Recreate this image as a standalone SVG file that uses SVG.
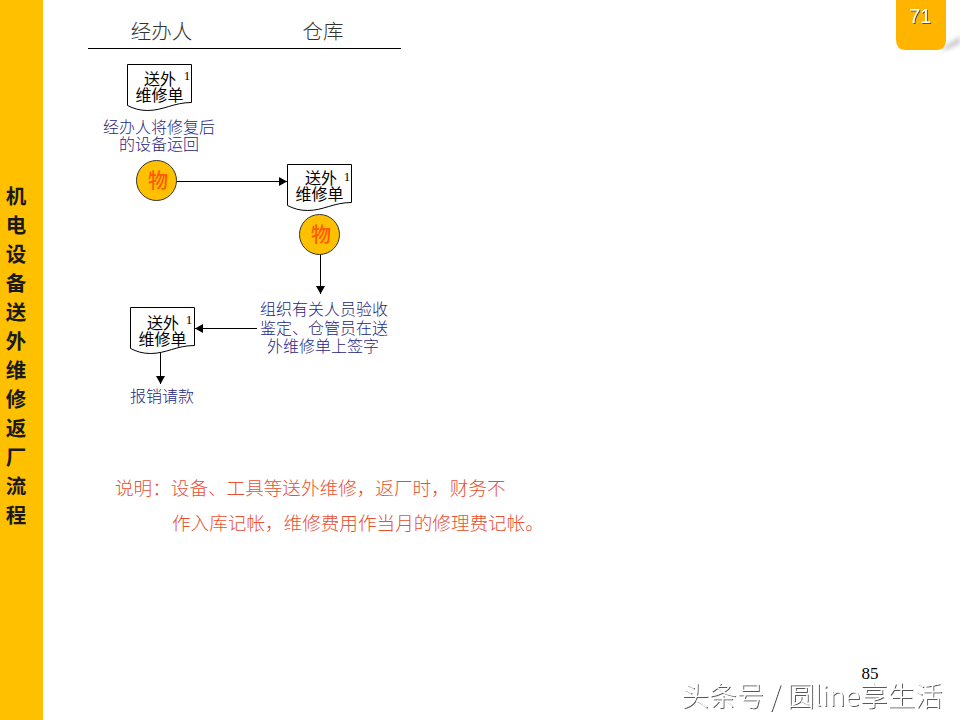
<svg xmlns="http://www.w3.org/2000/svg" width="960" height="720" viewBox="0 0 960 720">
<style>
text{font-family:"Noto Sans CJK SC","Liberation Sans",sans-serif;text-anchor:middle}
.doc{fill:#fff;stroke:#000;stroke-width:1}
.dt{font-size:16px;fill:#000;font-weight:400}
.num{font-family:"Liberation Serif",serif;font-size:13px;fill:#000}
.head{font-size:20.500px;fill:#333;font-weight:300}
.blue{font-size:16px;fill:#26267F;font-weight:300}
.circ{fill:#FFC000;stroke:#333;stroke-width:1}
.wu{font-size:20px;font-weight:500;fill:#FF5A00}
.side{font-size:20.500px;font-weight:700;fill:#1a1a1a}
.note{font-size:18.600px;fill:#E8502F;font-weight:300;text-anchor:start}
.conn{fill:none;stroke:#000;stroke-width:1;marker-end:url(#arr)}
</style>
<defs>
<marker id="arr" markerUnits="userSpaceOnUse" markerWidth="9" markerHeight="9" refX="8" refY="4.500" orient="auto"><path d="M0 0L8 4.500L0 9Z" fill="#000"/></marker>
<path id="docshape" d="M0 0H64V38C46 38 36 46 20 46C12 46 6 44 0 41Z"/>
<filter id="shadow" x="-20%" y="-20%" width="140%" height="140%"><feDropShadow dx="1" dy="1" stdDeviation="0.500" flood-color="#444" flood-opacity="0.900"/></filter>
<filter id="blur" x="-30%" y="-60%" width="160%" height="220%"><feGaussianBlur stdDeviation="2"/></filter>
</defs>
<rect width="960" height="720" fill="#fff"/>
<g id="sidebar">
<rect x="0" y="0" width="43" height="720" fill="#FFC000"/>
<text class="side" x="16" y="204">机</text>
<text class="side" x="16" y="233">电</text>
<text class="side" x="16" y="262">设</text>
<text class="side" x="16" y="291">备</text>
<text class="side" x="16" y="320">送</text>
<text class="side" x="16" y="349">外</text>
<text class="side" x="16" y="378">维</text>
<text class="side" x="16" y="407">修</text>
<text class="side" x="16" y="436">返</text>
<text class="side" x="16" y="465">厂</text>
<text class="side" x="16" y="494">流</text>
<text class="side" x="16" y="523">程</text>
</g>
<g id="page-tab">
<path d="M944 47L960 36V44L944 51Z" fill="#999" opacity="0.500" filter="url(#blur)"/>
<path d="M896 0H946V40Q946 50 936 50H906Q896 50 896 40Z" fill="#FFB400"/>
<text x="920" y="23" font-size="20" fill="#fff" filter="url(#shadow)" style="font-family:'Liberation Sans',sans-serif">71</text>
</g>
<g id="header">
<text class="head" x="161.500" y="38.500">经办人</text>
<text class="head" x="323" y="38.500">仓库</text>
<line x1="88" y1="48.500" x2="401" y2="48.500" stroke="#000" stroke-width="1"/>
</g>
<g id="connectors">
<path class="conn" d="M176 181.500H287"/>
<path class="conn" d="M320.500 255V294"/>
<path class="conn" d="M257 328.500H195"/>
<path class="conn" d="M160.500 352V384"/>
</g>
<g id="doc1" transform="translate(127.500 64.500)">
<use href="#docshape" class="doc"/>
<text class="dt" x="32.500" y="20.500">送外</text>
<text class="dt" x="32" y="36.500">维修单</text>
<text class="num" x="59.500" y="15">1</text>
</g>
<g id="label1">
<text class="blue" x="159" y="132.500">经办人将修复后</text>
<text class="blue" x="159" y="149.500">的设备运回</text>
</g>
<g id="wu1">
<circle class="circ" cx="156.500" cy="180.500" r="20"/>
<text class="wu" x="158" y="187.500">物</text>
</g>
<g id="doc2" transform="translate(287.500 164.500)">
<use href="#docshape" class="doc"/>
<text class="dt" x="33.500" y="19.500">送外</text>
<text class="dt" x="32" y="35.500">维修单</text>
<text class="num" x="59.500" y="16">1</text>
</g>
<g id="wu2">
<circle class="circ" cx="319.500" cy="234.500" r="20"/>
<text class="wu" x="321" y="241.500">物</text>
</g>
<g id="label2">
<text class="blue" x="324" y="315">组织有关人员验收</text>
<text class="blue" x="324" y="334">鉴定、仓管员在送</text>
<text class="blue" x="323" y="352">外维修单上签字</text>
</g>
<g id="doc3" transform="translate(130.500 307.500)">
<use href="#docshape" class="doc"/>
<text class="dt" x="32.500" y="21.500">送外</text>
<text class="dt" x="32" y="37">维修单</text>
<text class="num" x="58.500" y="16">1</text>
</g>
<g id="label3">
<text class="blue" x="162" y="402">报销请款</text>
</g>
<g id="note">
<text class="note" x="115" y="494.500">说明：设备、工具等送外维修，返厂时，财务不</text>
<text class="note" x="172" y="529.500">作入库记帐，维修费用作当月的修理费记帐。</text>
</g>
<text x="870" y="679" font-size="17" fill="#000" style="font-family:'Liberation Serif',serif">85</text>
<text x="812" y="706" font-size="27.500" fill="#fff" filter="url(#shadow)" font-weight="300">头条号 / 圆line享生活</text>
</svg>
